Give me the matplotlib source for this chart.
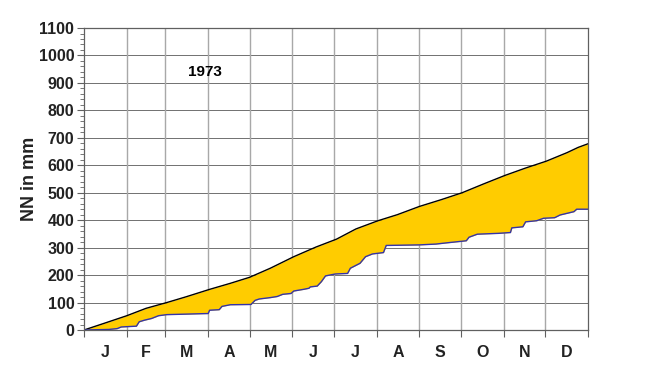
import matplotlib.pyplot as plt
import numpy as np
from matplotlib.ticker import MultipleLocator

# day of year / cumulative mm
upper_days = [0, 15, 31, 45, 60, 74, 91, 106, 120, 135, 152, 168, 183, 197, 213,
              227, 243, 259, 274, 290, 305, 320, 335, 350, 358, 365]
upper_mm = [0, 25, 52, 79, 100, 121, 148, 170, 192, 225, 267, 302, 331, 368, 398,
            420, 450, 475, 500, 533, 563, 590, 615, 646, 665, 678]

lower_days = [0, 18, 24, 27, 38, 40, 44, 49, 54, 60, 75, 90, 91, 98, 100, 106, 121,
              124, 127, 135, 140, 144, 150, 152, 159, 163, 164, 169, 172, 175, 182,
              191, 193, 200, 204, 209, 217, 219, 243, 255, 262, 277, 279, 285, 300,
              309, 310, 318, 320, 328, 333, 341, 345, 355, 357, 365]
lower_mm = [0, 2, 5, 11, 14, 30, 36, 42, 52, 56, 58, 60, 72, 74, 86, 92, 93,
            108, 113, 118, 122, 130, 133, 142, 148, 152, 157, 160, 176, 197, 204,
            206, 225, 243, 267, 277, 282, 308, 310, 313, 317, 325, 338, 349, 352,
            355, 372, 376, 394, 398, 407, 409, 419, 431, 440, 440]

month_starts = [0, 31, 59, 90, 120, 151, 181, 212, 243, 273, 304, 334, 365]
month_labels = ["J", "F", "M", "A", "M", "J", "J", "A", "S", "O", "N", "D"]
year_label = "1973"

plt.rcParams["font.family"] = ["Liberation Sans", "DejaVu Sans"]

fig = plt.figure(figsize=(6.5, 3.71), dpi=100)
ax = fig.add_axes([0.1292, 0.1105, 0.775, 0.814])

# fill between the two curves on a shared day grid
all_days = sorted(set(upper_days) | set(lower_days))
up_i = np.interp(all_days, upper_days, upper_mm)
lo_i = np.interp(all_days, lower_days, lower_mm)
ax.fill_between(all_days, lo_i, up_i, color="#ffcc00", lw=0, zorder=2)
ax.plot(upper_days, upper_mm, color="black", lw=1.0, zorder=3)
ax.plot(lower_days, lower_mm, color="#3333aa", lw=1.0, zorder=3)

ax.set_xlim(0, 365)
ax.set_ylim(0, 1100)

ax.yaxis.set_major_locator(MultipleLocator(100))
ax.yaxis.set_minor_locator(MultipleLocator(20))
ax.tick_params(axis="y", which="major", length=5, width=0.8, color="#606060",
               labelsize=11.5, pad=2)
ax.tick_params(axis="y", which="minor", length=3, width=0.6, color="#606060")
for lab in ax.get_yticklabels():
    lab.set_fontweight("bold")
    lab.set_color("#222222")

ax.set_xticks(month_starts)
ax.set_xticklabels([])
ax.set_xticks([(month_starts[i] + month_starts[i + 1]) / 2 for i in range(12)], minor=True)
ax.set_xticklabels(month_labels, minor=True, fontweight="bold", fontsize=11.5, color="#222222")
ax.tick_params(axis="x", which="major", length=5, width=0.8, color="#606060")
ax.tick_params(axis="x", which="minor", length=0, pad=11)

for y in range(100, 1100, 100):
    ax.axhline(y, color="#707070", lw=0.7, zorder=1)
for d in month_starts[1:-1]:
    ax.axvline(d, color="#a8a8a8", lw=1.0, zorder=1)

for s in ax.spines.values():
    s.set_color("#606060")
    s.set_linewidth(0.9)
    s.set_zorder(4)

ax.set_ylabel("NN in mm", fontsize=13, fontweight="bold", color="#222222", labelpad=0.5)
ax.text(88, 940, year_label, fontsize=11, fontweight="bold", ha="center", va="center")

fig.savefig("out.png", dpi=100)
